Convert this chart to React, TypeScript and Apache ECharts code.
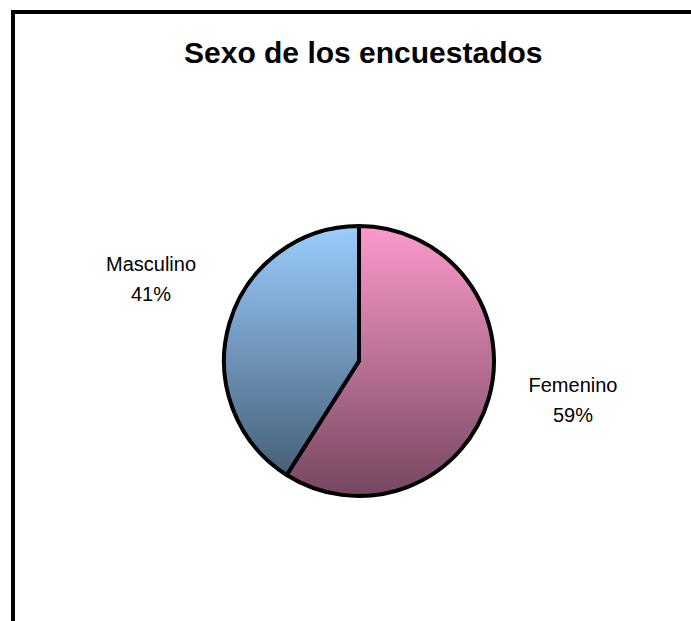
import React, { useEffect, useRef } from "react";
import * as echarts from "echarts";

const titleText = "Sexo de los encuestados";
const categories = ["Femenino", "Masculino"];
const values = [59, 41];
const topColors = ["#FC9ACB", "#9ACDFD"];
const bottomColors = ["#764760", "#3F566D"];

export default function App() {
  const ref = useRef<HTMLDivElement>(null);
  useEffect(() => {
    const chart = echarts.init(ref.current!, null, { renderer: "svg" });
    const labelPos: Record<string, [number, number]> = {
      Femenino: [573, 400],
      Masculino: [151, 279],
    };
    chart.setOption({
      animation: false,
      backgroundColor: "#ffffff",
      title: {
        text: titleText,
        left: 179,
        top: 32,
        textStyle: {
          fontFamily: "Liberation Sans, Arial, sans-serif",
          fontSize: 30,
          fontWeight: "bold",
          color: "#000",
        },
      },
      graphic: [
        {
          type: "rect",
          shape: { x: 13, y: 12, width: 720, height: 700 },
          style: { fill: "none", stroke: "#000", lineWidth: 4 },
          silent: true,
        },
      ],
      series: [
        {
          type: "pie",
          center: [359, 361],
          radius: 135,
          startAngle: 90,
          clockwise: true,
          data: categories.map((c, i) => ({
            name: c,
            value: values[i],
            itemStyle: {
              color: {
                type: "linear",
                x: 0,
                y: 226,
                x2: 0,
                y2: 496,
                global: true,
                colorStops: [
                  { offset: 0, color: topColors[i] },
                  { offset: 1, color: bottomColors[i] },
                ],
              },
              borderColor: "#000",
              borderWidth: 4,
            },
          })),
          label: {
            show: true,
            formatter: "{b}\n{d}%",
            fontFamily: "Liberation Sans, Arial, sans-serif",
            fontSize: 20,
            lineHeight: 30,
            color: "#000",
            align: "center",
          },
          labelLine: { show: false },
          labelLayout: (params: any) => {
            const name = categories[params.dataIndex];
            const p = labelPos[name];
            return { x: p[0], y: p[1], align: "center", verticalAlign: "middle" };
          },
          emphasis: { disabled: true },
        },
      ],
    });
    return () => chart.dispose();
  }, []);
  return (
    <div
      ref={ref}
      style={{ position: "fixed", left: 0, top: 0, width: 691, height: 621 }}
    />
  );
}
